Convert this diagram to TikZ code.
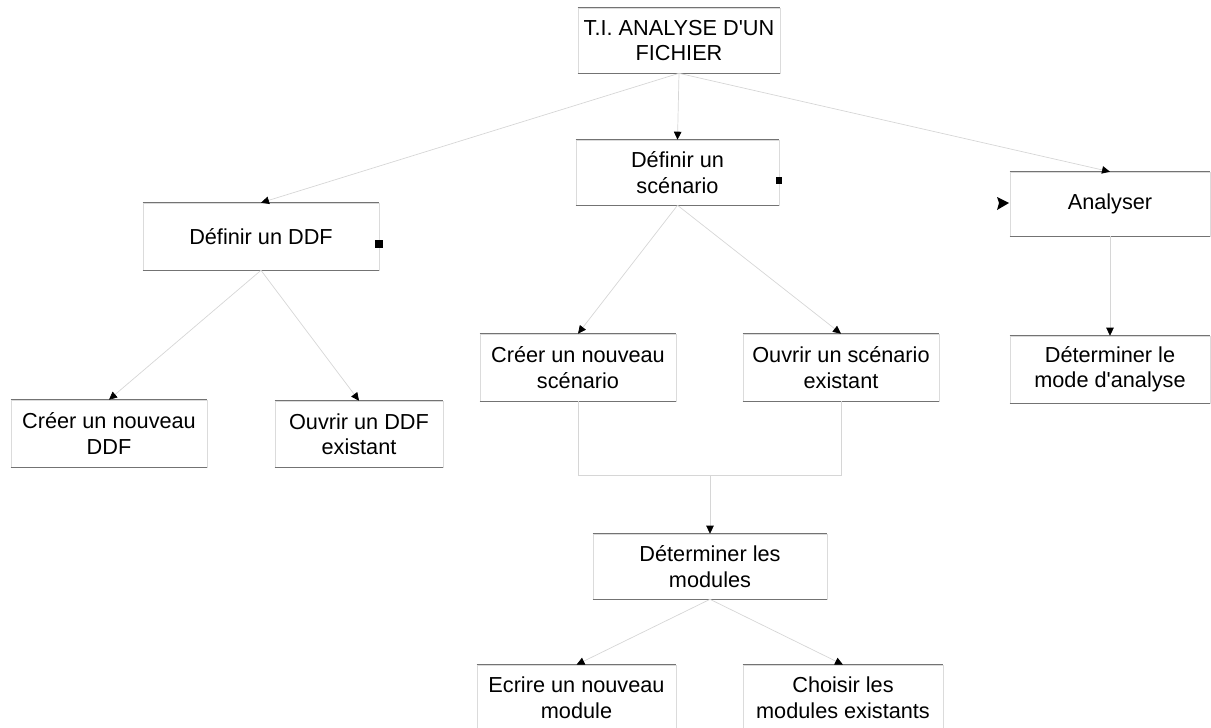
\documentclass[tikz,border=0pt]{standalone}
\usepackage{fontspec}
\setmainfont{Liberation Sans}
\usetikzlibrary{arrows.meta}
\tikzset{
  box/.style={draw=black!14, line width=0.6pt, inner sep=0pt, align=center,
    font=\fontsize{21.7}{25.5}\selectfont},
  conn/.style={draw=black!16, line width=0.7pt,
    -{Triangle[length=8pt,width=7.5pt,color=black,fill=black]}},
  plain/.style={draw=black!16, line width=0.7pt},
  rule/.style={draw=black!55, line width=0.8pt},
}
\begin{document}
\begin{tikzpicture}[x=1pt,y=-1pt]
\useasboundingbox (0,0) rectangle (1211,728);
\begin{scope}
\clip (0,0) rectangle (1211,728);
\node[box, minimum width=202pt, minimum height=65pt] (ti) at (679,40.5) {T.I. ANALYSE D\textquotesingle UN\\FICHIER};
\node[box, minimum width=203pt, minimum height=65pt] (scen) at (677.5,172.5) {Définir un\\scénario};
\node[box, minimum width=236pt, minimum height=67pt] (ddf) at (261,236.5) {Définir un DDF};
\node[box, minimum width=200pt, minimum height=64pt] (ana) at (1110,204) {Analyser};
\node[box, minimum width=200pt, minimum height=67pt] (mode) at (1110,369.5) {Déterminer le\\mode d\textquotesingle analyse};
\node[box, minimum width=196pt, minimum height=67pt] (cddf) at (109,433.5) {Créer un nouveau\\DDF};
\node[box, minimum width=168pt, minimum height=66pt] (oddf) at (359,434) {Ouvrir un DDF\\existant};
\node[box, minimum width=196pt, minimum height=67pt] (cscen) at (578,367.5) {Créer un nouveau\\scénario};
\node[box, minimum width=196pt, minimum height=67pt] (oscen) at (841,367.5) {Ouvrir un scénario\\existant};
\node[box, minimum width=234pt, minimum height=65pt] (dmod) at (710,566.5) {Déterminer les\\modules};
\node[box, minimum width=199pt, minimum height=65pt] (ecr) at (576.5,697.5) {Ecrire un nouveau\\module};
\node[box, minimum width=200pt, minimum height=65pt] (cho) at (843,697.5) {Choisir les\\modules existants};

\foreach \n in {ti,scen,ddf,ana,mode,cddf,oddf,cscen,oscen,dmod,ecr,cho}{
  \draw[rule] (\n.north west) -- (\n.north east) (\n.south west) -- (\n.south east);
}

\coordinate (j) at (710,475);

\draw[conn] (ti.south) -- (scen.north);
\draw[conn] (ti.south) -- (ddf.north);
\draw[conn] (ti.south) -- (ana.north);
\draw[conn] (ddf.south) -- (cddf.north);
\draw[conn] (ddf.south) -- (oddf.north);
\draw[conn] (scen.south) -- (cscen.north);
\draw[conn] (scen.south) -- (oscen.north);
\draw[conn] (ana.south) -- (mode.north);
\draw[plain] (cscen.south) |- (j);
\draw[plain] (oscen.south) |- (j);
\draw[conn] (j) -- (dmod.north);
\draw[conn] (dmod.south) -- (ecr.north);
\draw[conn] (dmod.south) -- (cho.north);

% sequence markers
\fill[black] ([xshift=-4pt,yshift=-3pt]ddf.east) rectangle ++(8,8);
\fill[black] ([xshift=-3pt,yshift=-4pt]scen.east) rectangle ++(6,7);
\fill[black] (997,197) -- (1009,203) -- (997,210) -- (999,203) -- cycle;
\end{scope}
\end{tikzpicture}
\end{document}
